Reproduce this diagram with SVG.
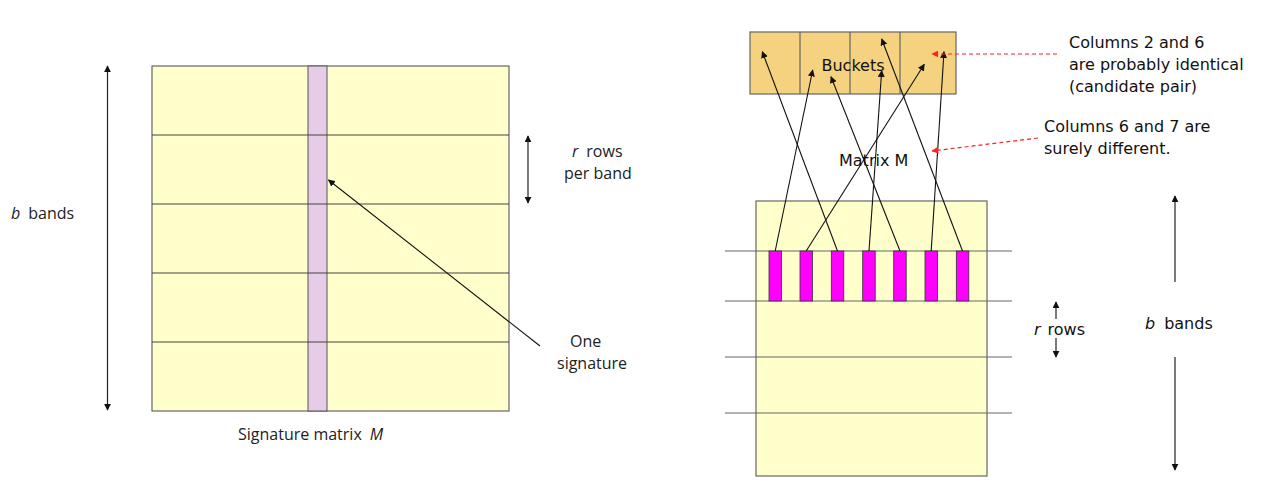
<svg xmlns="http://www.w3.org/2000/svg" width="1267" height="484" viewBox="0 0 1267 484">
<style>
.l { font-family: "Open Sans", "Noto Sans", sans-serif; font-size: 16px; fill: #222; }
.r { font-family: "DejaVu Sans", Verdana, sans-serif; font-size: 16px; fill: #111; }
.it { font-style: italic; }
.mat { fill: #FFFFCC; stroke: #666; stroke-width: 1.2; }
.band { stroke: #444; stroke-width: 1.2; fill: none; }
.hl { stroke: #666; stroke-width: 1.2; }
.bar { fill: #FF00FF; stroke: #333; stroke-width: 0.8; }
.arr { stroke: #111; stroke-width: 1.1; fill: none; marker-end: url(#ah); }
.dim { stroke: #222; stroke-width: 1.2; fill: none; marker-end: url(#ah); }
.red { stroke: #FF2020; stroke-width: 1.2; stroke-dasharray: 4 3; fill: none; marker-end: url(#rh); }
</style>
<defs>
<marker id="ah" viewBox="0 0 10 10" refX="9" refY="5" markerWidth="7" markerHeight="7" markerUnits="userSpaceOnUse" orient="auto">
<path d="M0,0 L10,5 L0,10 z" fill="#111"/>
</marker>
<marker id="rh" viewBox="0 0 10 10" refX="9" refY="5" markerWidth="7" markerHeight="7" markerUnits="userSpaceOnUse" orient="auto">
<path d="M0,0 L10,5 L0,10 z" fill="#FF2020"/>
</marker>
</defs>
<rect width="1267" height="484" fill="#fff"/>

<g id="signature-matrix">
<rect class="mat" x="152" y="66" width="357" height="345"/>
<rect x="308" y="66" width="19" height="345" fill="#E6CCE6" stroke="#555" stroke-width="1"/>
<line class="band" x1="152" y1="135" x2="509" y2="135"/>
<line class="band" x1="152" y1="204" x2="509" y2="204"/>
<line class="band" x1="152" y1="273" x2="509" y2="273"/>
<line class="band" x1="152" y1="342" x2="509" y2="342"/>
<text class="l" x="238" y="440" font-size="16.5">Signature matrix<tspan class="it" dx="8">M</tspan></text>
</g>

<g id="left-labels">
<text class="l" x="11" y="219"><tspan class="it">b</tspan><tspan dx="8">bands</tspan></text>
<text class="l" x="572" y="157"><tspan class="it">r</tspan><tspan dx="8">rows</tspan></text>
<text class="l" x="564" y="179">per band</text>
<text class="l" x="570" y="347">One</text>
<text class="l" x="557" y="369" font-size="16.5">signature</text>
</g>

<g id="buckets">
<rect x="750" y="32" width="206" height="62" fill="#F5D27F" stroke="#666" stroke-width="1.2"/>
<line class="hl" x1="800" y1="32" x2="800" y2="94"/>
<line class="hl" x1="850" y1="32" x2="850" y2="94"/>
<line class="hl" x1="900" y1="32" x2="900" y2="94"/>
<text class="r" x="853" y="71" text-anchor="middle">Buckets</text>
</g>

<g id="matrix-m">
<rect class="mat" x="756" y="201" width="231" height="275"/>
<line class="hl" x1="725" y1="251" x2="1012" y2="251"/>
<line class="hl" x1="725" y1="301" x2="1012" y2="301"/>
<line class="hl" x1="725" y1="357" x2="1012" y2="357"/>
<line class="hl" x1="725" y1="413" x2="1012" y2="413"/>
<rect class="bar" x="769" y="251" width="12.5" height="50"/>
<rect class="bar" x="800" y="251" width="12.5" height="50"/>
<rect class="bar" x="831.3" y="251" width="12.5" height="50"/>
<rect class="bar" x="862.7" y="251" width="12.5" height="50"/>
<rect class="bar" x="893.7" y="251" width="12.5" height="50"/>
<rect class="bar" x="925" y="251" width="12.5" height="50"/>
<rect class="bar" x="956.3" y="251" width="12.5" height="50"/>
<text class="r" x="839" y="166">Matrix M</text>
</g>

<g id="right-labels">
<text class="r" x="1069" y="48">Columns 2 and 6</text>
<text class="r" x="1069" y="70">are probably identical</text>
<text class="r" x="1069" y="92">(candidate pair)</text>
<text class="r" x="1044" y="132">Columns 6 and 7 are</text>
<text class="r" x="1044" y="154">surely different.</text>
<text class="r" x="1034" y="335" font-size="17"><tspan class="it">r</tspan><tspan dx="7">rows</tspan></text>
<text class="r" x="1145" y="329" font-size="17"><tspan class="it">b</tspan><tspan dx="9">bands</tspan></text>
</g>

<g id="connectors">
<line class="arr" x1="540" y1="346" x2="328.5" y2="180"/>
<line class="dim" x1="107.5" y1="140" x2="107.5" y2="66"/>
<line class="dim" x1="107.5" y1="140" x2="107.5" y2="410"/>
<line class="dim" x1="528" y1="170" x2="528" y2="136"/>
<line class="dim" x1="528" y1="170" x2="528" y2="203"/>
<line class="dim" x1="1056" y1="319" x2="1056" y2="302"/>
<line class="dim" x1="1056" y1="338" x2="1056" y2="357"/>
<line class="dim" x1="1175" y1="282" x2="1175" y2="196"/>
<line class="dim" x1="1175" y1="357" x2="1175" y2="470"/>
<line class="arr" x1="775.2" y1="251" x2="812.7" y2="70"/>
<line class="arr" x1="806.2" y1="251" x2="924.3" y2="64.3"/>
<line class="arr" x1="837.5" y1="251" x2="762.3" y2="51.7"/>
<line class="arr" x1="869" y1="251" x2="881.7" y2="70.7"/>
<line class="arr" x1="900" y1="251" x2="831" y2="76.7"/>
<line class="arr" x1="931.2" y1="251" x2="944" y2="51.7"/>
<line class="arr" x1="962.5" y1="251" x2="881.7" y2="39"/>
<line class="red" x1="1057" y1="54" x2="932" y2="54"/>
<line class="red" x1="1038" y1="138" x2="932" y2="151"/>
</g>
</svg>
